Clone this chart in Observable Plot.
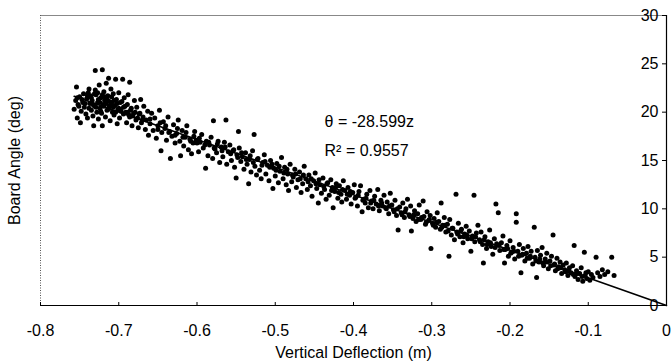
<!DOCTYPE html>
<html>
<head>
<meta charset="utf-8">
<script src="https://cdn.jsdelivr.net/npm/d3@7"></script>
<script src="https://cdn.jsdelivr.net/npm/@observablehq/plot@0.6"></script>
<style>
  html, body { margin: 0; padding: 0; background: #fff; }
</style>
</head>
<body>
<div id="chart"></div>
<script>
// Scatter points: [vertical deflection (m), board angle (deg)]
const points = [
[-0.757,20.3],[-0.755,21.2],[-0.754,22.6],[-0.753,19.4],[-0.752,20.8],[-0.750,21.6],[-0.749,18.9],[-0.748,20.1],[-0.746,21.0],[-0.745,21.9],[-0.744,20.5],[-0.742,19.8],[-0.741,21.4],[-0.740,19.4],[-0.739,22.0],[-0.738,22.4],[-0.737,20.9],[-0.736,21.7],[-0.735,20.2],
[-0.734,21.2],[-0.733,19.6],[-0.732,18.6],[-0.731,20.6],[-0.730,24.3],[-0.730,22.3],[-0.729,21.8],[-0.728,20.0],[-0.727,21.0],[-0.726,19.3],[-0.725,22.8],[-0.724,20.4],[-0.723,21.5],[-0.722,19.9],[-0.721,24.4],[-0.721,18.6],[-0.720,20.8],[-0.719,22.1],[-0.718,21.2],[-0.717,19.5],[-0.716,23.0],[-0.715,20.2],[-0.714,21.7],[-0.713,23.5],[-0.712,20.6],[-0.711,19.1],[-0.710,22.4],[-0.709,21.0],[-0.708,20.0],[-0.707,21.9],[-0.706,19.7],[-0.705,20.7],[-0.704,23.4],[-0.703,21.3],[-0.702,18.8],[-0.701,20.3],[-0.700,22.0],
[-0.699,19.4],[-0.698,21.0],[-0.697,20.1],[-0.695,23.4],[-0.694,19.8],[-0.693,21.5],[-0.692,20.6],[-0.690,18.9],[-0.689,20.0],[-0.688,21.8],[-0.686,23.1],[-0.686,19.5],[-0.684,20.4],[-0.683,18.6],[-0.681,19.9],[-0.680,21.2],[-0.678,19.2],[-0.677,20.5],[-0.675,18.4],[-0.674,19.8],[-0.672,21.3],[-0.671,18.9],[-0.669,19.5],[-0.668,20.6],[-0.666,18.2],[-0.665,19.2],[-0.663,20.1],[-0.662,17.6],
[-0.660,18.8],[-0.658,19.9],[-0.656,18.1],[-0.654,19.4],[-0.652,17.3],[-0.650,18.6],[-0.648,20.2],[-0.646,16.0],[-0.645,17.9],[-0.643,19.0],[-0.641,18.3],[-0.639,17.1],[-0.637,19.5],[-0.635,18.0],[-0.634,15.2],[-0.632,17.5],[-0.630,18.7],[-0.628,16.8],[-0.626,17.8],[-0.624,19.2],[-0.622,17.0],[-0.621,15.5],[-0.619,18.1],[-0.617,16.5],[-0.615,17.4],[-0.613,18.6],[-0.611,16.1],[-0.609,17.2],[-0.607,15.7],[-0.605,16.8],[-0.603,18.0],[-0.601,17.1],
[-0.598,15.9],[-0.596,16.9],[-0.594,17.7],[-0.592,16.3],[-0.589,14.2],[-0.588,17.0],[-0.586,15.5],[-0.584,16.6],[-0.582,17.4],[-0.580,15.2],[-0.579,19.1],[-0.577,16.2],[-0.575,15.8],[-0.573,17.0],[-0.571,14.8],[-0.569,16.4],[-0.567,15.4],[-0.565,16.9],[-0.563,19.2],[-0.562,14.6],[-0.560,15.9],[-0.558,16.6],[-0.556,15.0],[-0.554,16.0],[-0.552,14.3],[-0.550,13.2],[-0.549,15.6],[-0.547,18.0],[-0.546,16.3],[-0.544,14.9],[-0.542,15.4],
[-0.540,14.1],[-0.538,15.8],[-0.536,14.6],[-0.534,12.6],[-0.533,15.1],[-0.531,13.8],[-0.529,16.0],[-0.527,17.7],[-0.526,14.4],[-0.524,13.5],[-0.522,15.2],[-0.520,14.0],[-0.518,13.1],[-0.516,14.8],[-0.514,15.6],[-0.512,13.6],[-0.510,14.5],[-0.508,12.9],[-0.506,15.0],[-0.503,12.1],[-0.502,14.2],[-0.500,13.4],[-0.498,14.7],[-0.496,12.7],[-0.494,13.9],[-0.492,15.3],[-0.490,13.1],[-0.488,14.3],[-0.486,12.5],[-0.484,13.6],[-0.483,11.9],[-0.481,14.6],
[-0.479,12.8],[-0.477,13.3],[-0.475,14.1],[-0.473,12.2],[-0.471,13.0],[-0.469,13.8],[-0.467,11.7],[-0.465,12.6],[-0.463,14.4],[-0.461,13.1],[-0.459,12.0],[-0.457,13.5],[-0.455,12.4],[-0.453,11.3],[-0.451,12.9],[-0.449,13.7],[-0.447,12.1],[-0.445,10.6],[-0.443,12.5],[-0.441,11.6],[-0.439,13.2],[-0.437,12.0],[-0.435,11.0],[-0.433,12.7],[-0.431,11.4],[-0.429,13.0],[-0.427,12.2],[-0.426,10.1],[-0.424,11.8],[-0.422,12.6],
[-0.420,11.1],[-0.418,12.4],[-0.416,11.5],[-0.415,10.7],[-0.413,12.9],[-0.411,11.9],[-0.409,11.0],[-0.407,12.2],[-0.405,11.4],[-0.403,10.5],[-0.401,11.7],[-0.399,12.5],[-0.397,11.2],[-0.395,10.3],[-0.393,11.8],[-0.391,12.4],[-0.389,9.7],[-0.387,11.0],[-0.385,10.6],[-0.383,11.5],[-0.381,10.1],[-0.379,11.9],[-0.377,10.8],[-0.375,10.0],[-0.373,11.3],[-0.371,10.5],[-0.369,12.0],[-0.367,9.8],[-0.365,10.9],[-0.363,10.3],[-0.361,11.4],
[-0.359,10.1],[-0.357,10.7],[-0.355,9.5],[-0.353,11.6],[-0.351,10.4],[-0.349,9.9],[-0.347,10.9],[-0.345,9.3],[-0.343,7.8],[-0.341,10.2],[-0.339,9.6],[-0.337,10.6],[-0.335,9.1],[-0.333,10.0],[-0.331,11.0],[-0.329,9.4],[-0.327,10.3],[-0.326,7.7],[-0.324,9.0],[-0.322,9.8],[-0.320,8.7],[-0.318,9.5],[-0.316,10.4],[-0.314,8.9],[-0.311,10.8],[-0.310,9.2],[-0.308,8.4],[-0.306,9.7],[-0.304,8.8],[-0.302,9.3],[-0.301,5.9],
[-0.299,8.5],[-0.297,9.0],[-0.295,8.1],[-0.293,9.6],[-0.291,8.7],[-0.289,7.9],[-0.288,10.6],[-0.286,8.3],[-0.284,9.1],[-0.282,7.6],[-0.280,8.4],[-0.278,5.1],[-0.277,8.9],[-0.275,7.3],[-0.273,8.0],[-0.271,6.8],[-0.269,11.5],[-0.268,7.6],[-0.266,8.5],[-0.264,7.1],[-0.262,7.9],[-0.260,6.5],[-0.258,7.4],[-0.256,8.2],[-0.254,6.9],[-0.252,7.7],[-0.250,5.6],[-0.248,7.2],[-0.246,11.4],[-0.245,6.6],[-0.243,7.5],[-0.241,8.3],
[-0.239,6.8],[-0.237,7.6],[-0.235,6.3],[-0.234,4.4],[-0.232,7.1],[-0.230,5.9],[-0.228,6.6],[-0.226,7.8],[-0.224,6.1],[-0.222,5.3],[-0.220,6.9],[-0.218,10.5],[-0.217,6.4],[-0.215,9.6],[-0.213,5.7],[-0.211,6.5],[-0.209,7.2],[-0.207,4.4],[-0.206,5.8],[-0.204,6.2],[-0.202,5.1],[-0.200,6.7],[-0.198,5.5],[-0.196,6.0],[-0.194,4.8],[-0.192,9.5],[-0.192,8.6],[-0.190,5.6],[-0.188,6.3],[-0.186,3.4],[-0.185,5.2],[-0.183,5.9],[-0.181,4.6],
[-0.179,5.4],[-0.177,6.1],[-0.175,4.9],[-0.173,5.6],[-0.171,4.3],[-0.169,8.1],[-0.168,5.0],[-0.166,2.9],[-0.165,5.7],[-0.163,4.5],[-0.161,5.2],[-0.159,6.0],[-0.157,4.1],[-0.155,4.8],[-0.153,5.4],[-0.151,3.8],[-0.149,4.6],[-0.147,5.1],[-0.145,7.3],[-0.144,4.2],[-0.142,3.6],[-0.140,4.9],[-0.138,4.0],[-0.136,4.5],[-0.134,3.3],[-0.132,4.2],[-0.130,3.7],[-0.128,4.4],[-0.126,3.1],[-0.124,3.9],[-0.122,3.4],
[-0.120,4.1],[-0.118,6.2],[-0.117,3.0],[-0.115,3.6],[-0.113,2.7],[-0.111,3.3],[-0.109,3.9],[-0.107,2.5],[-0.105,5.5],[-0.104,3.1],[-0.102,2.8],[-0.100,3.5],[-0.098,2.6],[-0.096,3.2],[-0.094,2.9],[-0.090,5.0],[-0.088,3.4],[-0.085,3.0],[-0.082,3.7],[-0.079,3.2],[-0.075,3.5],[-0.070,5.0],[-0.067,3.1],
// dense core near -0.72
[-0.753,21.5],[-0.751,20.6],[-0.747,21.3],[-0.743,20.9],[-0.740,21.7],[-0.738,20.4],[-0.735,21.5],[-0.733,20.8],[-0.731,21.9],[-0.729,20.5],[-0.727,22.0],[-0.726,21.3],[-0.724,21.0],[-0.723,20.1],[-0.721,21.8],[-0.719,20.6],[-0.718,21.6],[-0.716,20.9],[-0.715,21.4],[-0.713,20.3],[-0.712,21.1],[-0.710,20.7],[-0.709,21.6],[-0.707,20.5],[-0.706,21.2],[-0.704,20.0],[-0.702,20.9],[-0.700,20.4],[-0.698,20.2],[-0.696,21.1],[-0.694,20.5],[-0.691,20.0],[-0.689,20.8],[-0.687,19.7],[-0.685,20.2],[-0.682,19.6],[-0.679,20.0],[-0.676,19.4],[-0.673,19.9],[-0.670,19.2],
// dense band
[-0.660,19.3],[-0.650,18.2],[-0.647,18.9],[-0.640,18.6],[-0.636,17.9],[-0.628,17.6],[-0.625,18.3],[-0.618,17.4],[-0.614,17.9],[-0.608,17.0],[-0.604,17.5],[-0.600,16.8],[-0.597,17.3],[-0.590,16.6],[-0.585,16.9],[-0.578,16.3],[-0.574,16.7],[-0.568,16.0],[-0.564,16.4],[-0.557,15.7],[-0.553,16.1],[-0.548,15.3],[-0.543,15.8],[-0.537,15.1],[-0.532,15.5],[-0.528,14.8],[-0.523,15.1],[-0.517,14.5],[-0.513,14.9],[-0.507,14.3],[-0.504,14.6],[-0.499,14.0],[-0.495,14.4],[-0.489,13.7],[-0.485,14.1],[-0.478,13.5],[-0.474,13.6],[-0.468,13.1],[-0.464,13.5],[-0.458,12.8],[-0.454,13.1],[-0.448,12.6],[-0.444,13.0],[-0.438,12.3],[-0.434,12.6],[-0.428,11.9],[-0.423,12.2],[-0.419,11.7],[-0.414,12.0],[-0.408,11.5],[-0.404,11.8],[-0.398,11.1],[-0.394,11.4],[-0.388,10.9],[-0.384,11.1],[-0.378,10.6],[-0.374,10.9],[-0.368,10.3],[-0.364,10.6],[-0.358,10.0],[-0.354,10.3],[-0.348,9.7],[-0.344,10.0],[-0.338,9.4],[-0.334,9.7],[-0.328,9.2],[-0.323,9.4],[-0.317,8.9],[-0.313,9.1],[-0.307,8.6],[-0.303,8.9],[-0.298,8.3],[-0.294,8.6],[-0.287,8.1],[-0.283,8.3],[-0.279,7.7],[-0.274,8.0],[-0.267,7.4],[-0.263,7.7],[-0.259,7.1],[-0.255,7.3],[-0.249,6.9],[-0.244,7.1],[-0.238,6.6],[-0.233,6.8],[-0.229,6.3],[-0.225,6.5],[-0.219,6.0],[-0.214,6.2],[-0.208,5.8],[-0.203,5.9],[-0.199,5.4],[-0.195,5.6],[-0.189,5.1],[-0.184,5.3],[-0.178,4.9],[-0.174,5.1],[-0.167,4.6],[-0.162,4.8],[-0.158,4.4],[-0.154,4.5],[-0.148,4.1],[-0.143,4.3],[-0.139,3.8],[-0.135,3.9],[-0.129,3.5],[-0.125,3.6],[-0.119,3.2],[-0.114,3.3],[-0.108,3.0],[-0.103,3.4]
];

// Fitted trend line (through origin): theta = slope * z
const slope = -28.599;
const trendX = [-0.757, 0];
const trend = trendX.map(x => ({x, y: slope * x}));

const xTicks = [-0.8, -0.7, -0.6, -0.5, -0.4, -0.3, -0.2, -0.1, 0];
const yTicks = [0, 5, 10, 15, 20, 25, 30];
const xLabel = "Vertical Deflection (m)";
const yLabel = "Board Angle (deg)";
const annotation = [
  {x: -0.437, y: 19.0, text: "θ = -28.599z"},
  {x: -0.437, y: 16.0, text: "R² = 0.9557"}
];

const chart = Plot.plot({
  width: 672,
  height: 363,
  marginLeft: 40,
  marginRight: 6,
  marginTop: 15,
  marginBottom: 58,
  style: {fontFamily: "'Liberation Sans', Arial, sans-serif", fontSize: "16px", color: "#000", background: "#fff"},
  x: {domain: [-0.8, 0], label: null},
  y: {domain: [0, 30], label: null},
  marks: [
    Plot.ruleY([30], {stroke: "#888", strokeWidth: 1.2}),
    Plot.ruleX([-0.8], {stroke: "#555", strokeDasharray: "1,1.5"}),
    Plot.dot(points, {x: d => d[0], y: d => d[1], r: 2.5, fill: "#000", stroke: null}),
    Plot.line(trend, {x: "x", y: "y", stroke: "#000", strokeWidth: 1.6}),
    Plot.ruleY([0], {stroke: "#000", strokeWidth: 1.2}),
    Plot.ruleX([0], {stroke: "#000", strokeWidth: 1.2}),
    Plot.axisX({ticks: xTicks, tickSize: -3, tickPadding: 22, tickFormat: d => String(d), label: null, fontSize: 16}),
    Plot.axisY({anchor: "right", ticks: yTicks, tickSize: -5, tickPadding: -3, textAnchor: "end", tickFormat: d => String(d), label: null, fontSize: 16}),
    Plot.text(annotation, {x: "x", y: "y", text: "text", textAnchor: "start", fontSize: 16, fill: "#000"}),
    Plot.text([xLabel], {frameAnchor: "bottom", lineAnchor: "middle", dy: 47, text: d => d, fontSize: 16, fill: "#000"}),
    Plot.text([yLabel], {frameAnchor: "left", dx: -26, rotate: -90, textAnchor: "middle", text: d => d, fontSize: 16, fill: "#000"})
  ]
});
document.getElementById("chart").appendChild(chart);
</script>
</body>
</html>
